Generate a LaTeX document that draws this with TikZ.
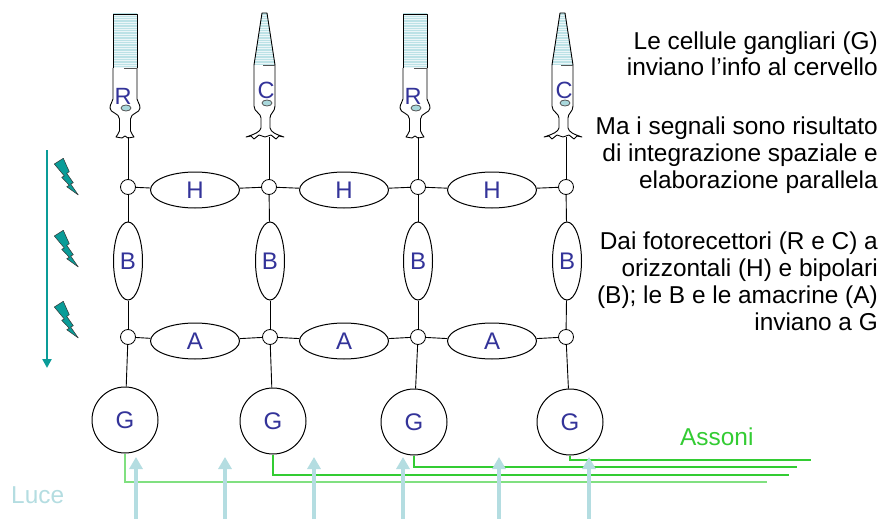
\documentclass[tikz,border=0pt]{standalone}
\usepackage{fontspec}
\setmainfont{Liberation Sans}
\usetikzlibrary{arrows.meta,shapes.geometric}

\definecolor{lbl}{HTML}{333399}
\definecolor{luce}{HTML}{B4DDE1}
\definecolor{tealdk}{HTML}{0A9C98}
\definecolor{axg}{HTML}{33CC33}
\definecolor{axl}{HTML}{80E080}
\definecolor{seg}{HTML}{BCE2E6}
\definecolor{nuc}{HTML}{A9D8DC}
\definecolor{tabc}{HTML}{555555}

% outer segment stripes inside the current clip
\newcommand\segstripes{%
  \fill[seg] (-20,10) rectangle (20,70);
  \foreach \yy in {15,17.4,...,68} \draw[white!70!seg, line width=0.6pt] (-20,\yy) -- (20,\yy);}

% rod photoreceptor centred on x = #1
\newcommand\rodcell[2]{%
  \begin{scope}[shift={(#1,0)}]
    \begin{scope}
      \clip (-12,14) rectangle (12,68);
      \segstripes
    \end{scope}
    \draw[cellline] (-12,68) -- (-12,14) -- (12,14) -- (12,68);
    \draw[cellline] (-12,68) -- (-12,99) .. controls (-12,102) and (-15,103) .. (-15,108)
      .. controls (-15,113) and (-5.5,113) .. (-5.5,119) -- (-5.5,131)
      .. controls (-5.5,134) and (-9,135) .. (-9,137) -- (-3,138) -- (0,136) -- (3,138) -- (9,137)
      .. controls (9,135) and (5.5,134) .. (5.5,131) -- (5.5,119)
      .. controls (5.5,113) and (15,113) .. (15,108)
      .. controls (15,103) and (12,102) .. (12,99) -- (12,68);
    \draw[tabc, line width=1.8pt] (-1,68.5) -- (12,68.5);
    \node[rcptext] at (-2,96) {#2};
    \draw[nucl] (1,108) ellipse [x radius=5, y radius=3];
  \end{scope}}

% cone photoreceptor centred on x = #1
\newcommand\conecell[2]{%
  \begin{scope}[shift={(#1,0)}]
    \begin{scope}
      \clip (-3,13) -- (2,13) -- (10,65) -- (-11,65) -- cycle;
      \segstripes
    \end{scope}
    \draw[cellline] (-11,65) -- (-3,13) -- (2,13) -- (10,65);
    \draw[cellline] (-11,65) -- (-11,106) .. controls (-11,112) and (-4,113) .. (-4,118) -- (-4,128)
      .. controls (-5,132) and (-10,134) .. (-19,137) -- (-14,136) -- (-11,139) -- (-6,135)
      -- (0,137) -- (6,135) -- (11,139) -- (14,136) -- (19,137)
      .. controls (10,134) and (6,132) .. (5,128) -- (5,118)
      .. controls (5,113) and (10,112) .. (10,106) -- (10,65);
    \draw[tabc, line width=1.8pt] (-2,65.5) -- (10,65.5);
    \node[rcptext] at (1,90) {#2};
    \draw[nucl] (2,103) ellipse [x radius=5, y radius=3];
  \end{scope}}

% lightning bolt with top-left corner at (#1,#2)
\newcommand\bolt[2]{%
  \draw[boltstyle, shift={(#1,#2)}] (0.3,6) -- (9.3,0.3) -- (15.3,13.7) -- (12.7,15.3) -- (19.3,24.7)
    -- (16.7,26) -- (24.3,37) -- (12.7,28.7) -- (15.3,27.3) -- (7.7,19.3) -- (10.3,18) -- cycle;}

\begin{document}
\begin{tikzpicture}[x=1pt, y=-1pt,
  cellline/.style={black, line width=0.9pt, line join=round},
  nucl/.style={draw=tabc, fill=nuc, line width=0.8pt},
  rcptext/.style={text=lbl, font=\fontsize{23.5}{23.5}\selectfont, inner sep=0},
  lettr/.style={text=lbl, font=\fontsize{24}{24}\selectfont, inner sep=0},
  junction/.style={circle, draw, fill=white, minimum size=15pt, inner sep=0, line width=0.8pt},
  hcell/.style={ellipse, draw, lettr, minimum width=89pt, minimum height=36pt, line width=1pt},
  bcell/.style={ellipse, draw, lettr, minimum width=29pt, minimum height=78pt, line width=1pt},
  gcell/.style={circle, draw, lettr, minimum size=66pt, line width=1pt},
  wire/.style={black, line width=0.9pt},
  axon/.style={axg, line width=1.3pt},
  luceray/.style={luce, line width=4pt, -{Triangle[width=13pt,length=12pt]}},
  boltstyle/.style={fill=tealdk, draw=black!80, line width=0.5pt, line join=round},
  bigtext/.style={font=\fontsize{24.4}{26.7}\selectfont, inner sep=0},
  sidetext/.style={bigtext, align=right, anchor=base east}]

\useasboundingbox (0,0) rectangle (886,519);
\fill[white] (0,0) rectangle (886,519);

% photoreceptors
\rodcell{125}{R}
\conecell{265}{C}
\rodcell{415}{R}
\conecell{563}{C}

\coordinate (p1) at (128,137);
\coordinate (p2) at (269,137);
\coordinate (p3) at (418,137);
\coordinate (p4) at (566,137);

% cells of the retina
\foreach \i/\x in {1/128,2/269,3/418,4/566} {
  \node[junction] (u\i) at (\x,187) {};
}
\foreach \i/\x in {1/128,2/270,3/418,4/566} {
  \node[junction] (l\i) at (\x,337) {};
}
\foreach \i/\x in {1/195,2/344,3/492} {
  \node[hcell] (h\i) at (\x,190) {H};
  \node[hcell] (a\i) at (\x,341) {A};
}
\foreach \i/\x in {1/128,2/270,3/418,4/567} {
  \node[bcell] (b\i) at (\x,261) {B};
}
\node[gcell] (g1) at (125,420) {G};
\node[gcell] (g2) at (273,421) {G};
\node[gcell] (g3) at (414,422) {G};
\node[gcell] (g4) at (570,422) {G};

% synaptic wiring
\foreach \i in {1,2,3,4} {
  \draw[wire] (p\i) -- (u\i);
  \draw[wire] (u\i) -- (b\i);
  \draw[wire] (b\i) -- (l\i);
  \draw[wire] (l\i) -- (g\i);
}
\foreach \i/\j in {1/2,2/3,3/4} {
  \draw[wire] (u\i) -- (h\i);
  \draw[wire] (h\i) -- (u\j);
  \draw[wire] (l\i) -- (a\i);
  \draw[wire] (a\i) -- (l\j);
}

% axons leaving the retina
\coordinate (e1) at (767,482);
\coordinate (e2) at (789,475);
\coordinate (e3) at (797,467);
\coordinate (e4) at (811,460);
\draw[axon, axl] (g1.south) |- (e1);
\draw[axon] (g2.south) |- (e2);
\draw[axon] (g3.south) |- (e3);
\draw[axon] (g4.south) |- (e4);
\node[bigtext, text=axg, anchor=base west] (assoni) at (680,445) {Assoni};

% incoming light
\foreach \i/\x in {1/136,2/225,3/314,4/403,5/499,6/589} {
  \coordinate (ls\i) at (\x,519);
  \coordinate (lt\i) at (\x,457);
  \draw[luceray] (ls\i) -- (lt\i);
}
\node[bigtext, text=luce, anchor=base west] (luce) at (11,503) {Luce};

% signal direction and excitation
\coordinate (sigtop) at (47,150);
\coordinate (sigbot) at (47,368);
\draw[tealdk, line width=2.5pt, -{Triangle[width=9pt,length=9pt]}] (sigtop) -- (sigbot);
\bolt{54}{158}
\bolt{54}{230}
\bolt{54}{301}

% explanations (anchored on the baseline of the last line)
\node[sidetext] (t1) at (878,76) {Le cellule gangliari (G)\\inviano l’info al cervello};
\node[sidetext] (t2) at (878,188.3) {Ma i segnali sono risultato\\di integrazione spaziale e\\elaborazione parallela};
\node[sidetext] (t3) at (878,330) {Dai fotorecettori (R e C) a\\orizzontali (H) e bipolari\\(B); le B e le amacrine (A)\\inviano a G};
\end{tikzpicture}
\end{document}
